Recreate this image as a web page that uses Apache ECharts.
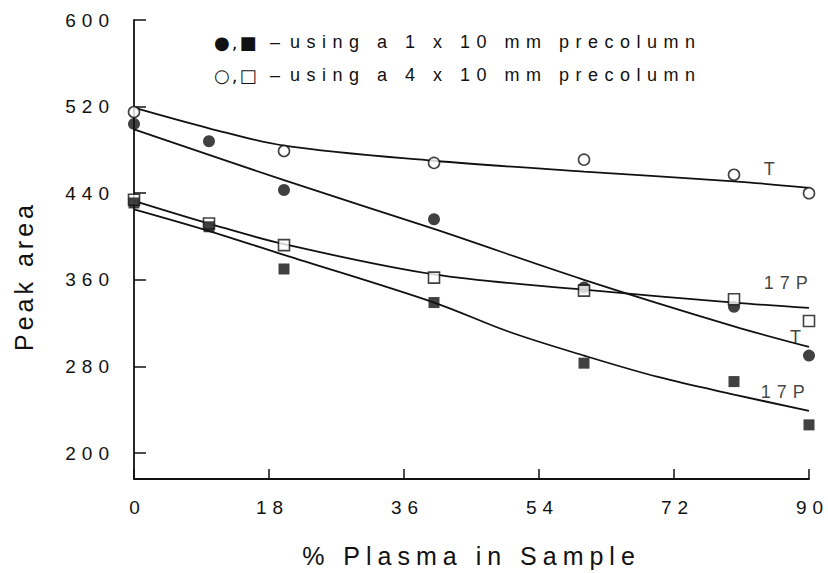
<!DOCTYPE html>
<html>
<head>
<meta charset="utf-8">
<script src="https://cdn.jsdelivr.net/npm/echarts@6/dist/echarts.min.js"></script>
<style>
  html, body { margin: 0; padding: 0; background: #fff; }
  #chart { width: 828px; height: 573px; }
  /* typewriter-like wide spacing for every label */
  #chart svg text { letter-spacing: 6px; }
</style>
</head>
<body>
<div id="chart"></div>
<script>
// Axis ticks
const xTicks = [0, 18, 36, 54, 72, 90];
const yTicks = [200, 280, 360, 440, 520, 600];

// Measured peak areas, [% plasma, peak area]
// 1 x 10 mm precolumn
const t1x10 = [[0, 504], [10, 488], [20, 443], [40, 416], [60, 353], [80, 335], [90, 290]];
const p17_1x10 = [[0, 431], [10, 409], [20, 370], [40, 339], [60, 283], [80, 266], [90, 226]];
// 4 x 10 mm precolumn
const t4x10 = [[0, 515], [20, 479], [40, 468], [60, 471], [80, 457], [90, 440]];
const p17_4x10 = [[0, 434], [10, 412], [20, 392], [40, 362], [60, 350], [80, 342], [90, 322]];

// Fitted curves
const fitT4 = [[0, 519], [10, 500], [20, 484], [40, 470], [60, 460], [80, 451], [90, 445]];
const fitT1 = [[0, 499], [20, 452], [40, 407], [60, 360], [80, 317], [90, 298]];
const fit17P4 = [[0, 433], [10, 412], [20, 393], [40, 365], [60, 351], [80, 339], [90, 334]];
const fit17P1 = [[0, 425], [10, 405], [20, 383], [40, 339], [50, 312], [60, 290], [70, 270], [80, 254], [90, 239]];

// Curve tags
const tagText = ['T', '17P', 'T', '17P'];
const tagPos = [[85.1, 462], [87.3, 357], [88.6, 307], [86.9, 256]];

// Legend lines
const legendKeys = ['\u25CF,\u25A0', '\u25CB,\u25A1'];
const legendDash = '\u2013';
const legendText = ['using a 1 x 10 mm precolumn', 'using a 4 x 10 mm precolumn'];

const FONT = '"Liberation Sans", Arial, Helvetica, sans-serif';
const INK = '#111';

const chart = echarts.init(document.getElementById('chart'), null, { renderer: 'svg' });

function fitSeries(data) {
  return {
    type: 'line', data: data, smooth: 0.35, showSymbol: false, symbol: 'none',
    lineStyle: { color: INK, width: 1.8 }, silent: true, z: 2
  };
}
function markSeries(data, symbol, size, filled) {
  return {
    type: 'scatter', data: data, symbol: symbol, symbolSize: size, z: 5,
    itemStyle: filled ? { color: INK } : { color: '#fff', borderColor: INK, borderWidth: 1.6 }
  };
}
function legendLine(i, y) {
  return {
    type: 'text', x: 214, y: y,
    style: {
      text: '{k|' + legendKeys[i] + '}{d|' + legendDash + '}{t|' + legendText[i] + '}',
      textVerticalAlign: 'middle',
      rich: {
        k: { font: '18px "DejaVu Sans", sans-serif', fill: INK, width: 56, verticalAlign: 'middle' },
        d: { font: '18px ' + FONT, fill: INK, width: 20, verticalAlign: 'middle' },
        t: { font: '18px ' + FONT, fill: INK, verticalAlign: 'middle' }
      }
    }
  };
}

chart.setOption({
  animation: false,
  grid: { left: 134, right: 19, top: 20, bottom: 91 },
  xAxis: {
    type: 'value', min: 0, max: 90, interval: 18,
    name: '% Plasma in Sample', nameLocation: 'middle', nameGap: 64,
    nameTextStyle: { fontFamily: FONT, fontSize: 25, color: INK },
    axisLine: { lineStyle: { color: INK, width: 1.8 } },
    axisTick: { inside: true, length: 10, lineStyle: { color: INK, width: 1.5 } },
    axisLabel: {
      margin: 19, fontFamily: FONT, fontSize: 19, color: INK,
      padding: [0, 0, 0, 7], customValues: xTicks
    },
    splitLine: { show: false }
  },
  yAxis: {
    type: 'value', min: 176, max: 600,
    axisLine: { show: true, lineStyle: { color: INK, width: 1.8 } },
    axisTick: { show: true, inside: true, length: 12, customValues: yTicks,
                lineStyle: { color: INK, width: 1.5 } },
    axisLabel: { margin: 19, fontFamily: FONT, fontSize: 19, color: INK, customValues: yTicks },
    splitLine: { show: false }
  },
  graphic: [
    {
      type: 'text', x: 24, y: 276, rotation: Math.PI / 2,
      style: { text: 'Peak area', font: '25px ' + FONT, fill: INK,
               textAlign: 'center', textVerticalAlign: 'middle' }
    },
    legendLine(0, 42),
    legendLine(1, 75)
  ],
  series: [
    fitSeries(fitT4),
    fitSeries(fitT1),
    fitSeries(fit17P4),
    fitSeries(fit17P1),
    markSeries(t4x10, 'circle', 11, false),
    markSeries(t1x10, 'circle', 12, true),
    markSeries(p17_4x10, 'rect', 11, false),
    markSeries(p17_1x10, 'rect', 11, true),
    {
      type: 'scatter', symbolSize: 0, silent: true, z: 6,
      data: tagPos.map((p, i) => ({ value: p, name: tagText[i] })),
      label: { show: true, position: 'inside', formatter: '{b}',
               fontFamily: FONT, fontSize: 18, color: INK }
    }
  ]
});

// Per-label spacing tweaks: tighter axis title and legend keys, slightly wider legend text
document.querySelectorAll('#chart svg text').forEach(function (el) {
  const s = el.textContent;
  if (s === 'Peak area') el.style.letterSpacing = '4px';
  else if (legendKeys.indexOf(s) >= 0) el.style.letterSpacing = '2px';
  else if (s === legendDash) el.style.letterSpacing = '0px';
  else if (s.indexOf('precolumn') >= 0) el.style.letterSpacing = '6.5px';
});
</script>
</body>
</html>
